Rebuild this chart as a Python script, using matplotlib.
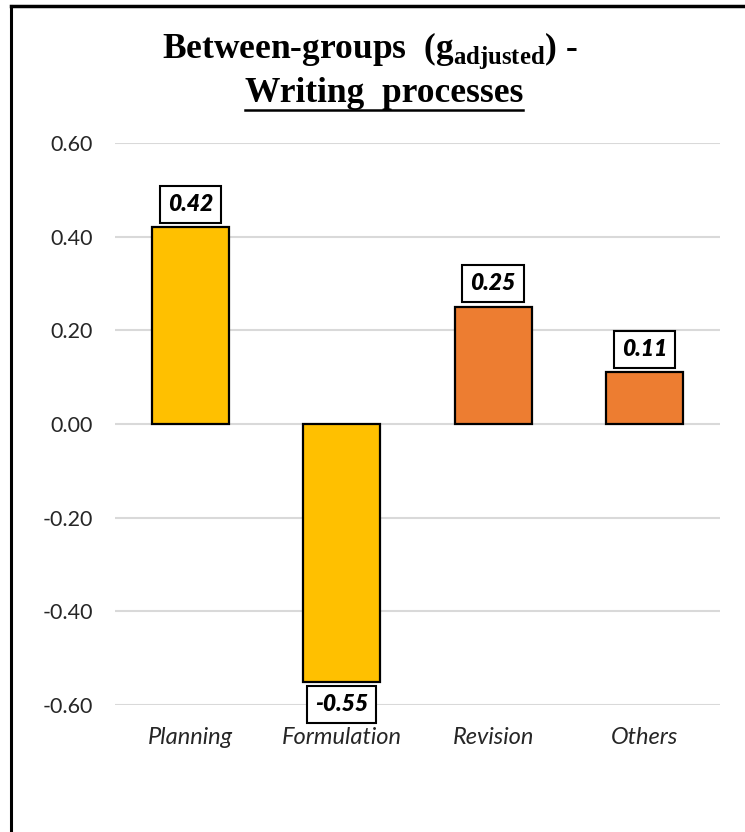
import numpy as np
import matplotlib.pyplot as plt
from matplotlib.lines import Line2D

# [Data]______________________________________________________________________
categories = ["Planning", "Formulation", "Revision", "Others"]
g_adjusted = [0.42, -0.55, 0.25, 0.11]
bar_colors = ["#FFC000", "#FFC000", "#ED7D31", "#ED7D31"]
y_ticks = [-0.60, -0.40, -0.20, 0.00, 0.20, 0.40, 0.60]

plt.rcParams["mathtext.fontset"] = "custom"
plt.rcParams["mathtext.rm"] = "Liberation Serif:bold"
plt.rcParams["mathtext.bf"] = "Liberation Serif:bold"

W, H = 745, 832
fig = plt.figure(figsize=(W / 100, H / 100), dpi=100)
ax = fig.add_axes([115 / W, 1 - 705 / H, (720 - 115) / W, (705 - 143) / H])

x = np.arange(len(categories))
bars = ax.bar(x, g_adjusted, width=0.51, color=bar_colors, edgecolor="black", linewidth=1.6, zorder=3)

ax.set_xlim(-0.5, len(categories) - 0.5)
ax.set_ylim(-0.6, 0.6)
ax.set_yticks(y_ticks)
ax.set_yticklabels([f"{v:.2f}" for v in y_ticks], fontfamily="Lato", fontsize=15.5, color="#262626")
ax.set_xticks(x)
ax.set_xticklabels(categories, fontfamily="Lato", fontstyle="italic", fontsize=17, color="#262626")
ax.tick_params(axis="y", length=0, pad=16)
ax.tick_params(axis="x", length=0, pad=16)
ax.yaxis.grid(True, color="#D9D9D9", linewidth=1.5, zorder=0)
ax.set_axisbelow(True)
for s in ax.spines.values():
  s.set_visible(False)

# value labels in boxes
for xi, v in zip(x, g_adjusted):
  off = 9 if v >= 0 else -9
  ax.annotate(f"{v:.2f}", (xi, v), xytext=(0, off), textcoords="offset points",
              ha="center", va="bottom" if v >= 0 else "top",
              fontfamily="Lato", fontweight="heavy", fontstyle="italic", fontsize=16.5,
              bbox=dict(boxstyle="square,pad=0.35", fc="white", ec="black", lw=1.5), zorder=5)

# title
fig.text(370 / W, 1 - 51 / H, r"Between-groups  ($\mathbf{g}_{\mathbf{adjusted}}$) -",
         ha="center", va="center", fontfamily="Liberation Serif", fontweight="bold", fontsize=25.5)
t2 = fig.text(384 / W, 1 - 93 / H, "Writing  processes", ha="center", va="center",
              fontfamily="Liberation Serif", fontweight="bold", fontsize=25.5)

fig.canvas.draw()
bb = t2.get_window_extent().transformed(fig.transFigure.inverted())
fig.add_artist(Line2D([bb.x0, bb.x1], [1 - 110 / H] * 2, color="black", lw=1.8, transform=fig.transFigure))

# outer frame (left and top edges)
fig.add_artist(Line2D([11 / W, 11 / W], [0, 1 - 6 / H], color="black", lw=2.2, transform=fig.transFigure))
fig.add_artist(Line2D([11 / W, 1], [1 - 6 / H] * 2, color="black", lw=2.5, transform=fig.transFigure))

fig.savefig("out.png", dpi=100)
